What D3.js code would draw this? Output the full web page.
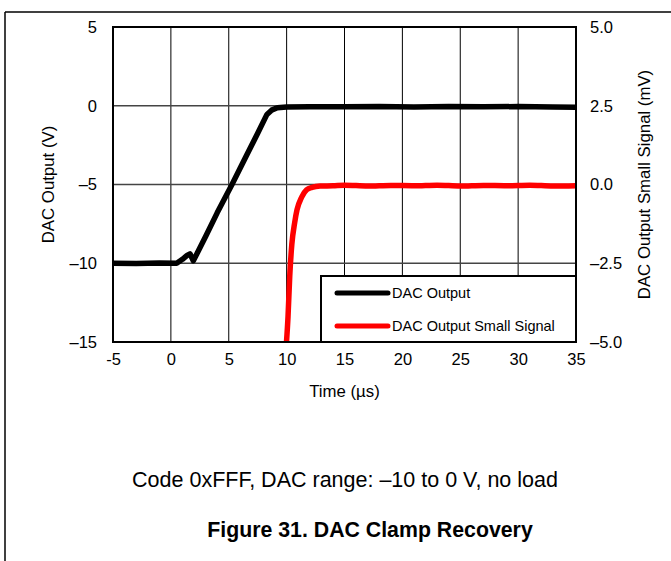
<!DOCTYPE html>
<html><head><meta charset="utf-8">
<script src="https://cdn.jsdelivr.net/npm/d3@7"></script>
<style>
html,body{margin:0;padding:0;background:#fff;}
svg{display:block;font-family:Arial,"Liberation Sans",Helvetica,sans-serif;}
</style></head>
<body>
<svg id="c" width="671" height="561"></svg>
<script>
// ---- data ----
const xTicks = [-5, 0, 5, 10, 15, 20, 25, 30, 35];
const xTickLabels = ["-5", "0", "5", "10", "15", "20", "25", "30", "35"];
const yLeftTicks = [5, 0, -5, -10, -15];
const yLeftTickLabels = ["5", "0", "–5", "–10", "–15"];
const yRightTicks = [5, 2.5, 0, -2.5, -5];
const yRightTickLabels = ["5.0", "2.5", "0.0", "–2.5", "–5.0"];

// DAC Output (V) vs time (µs)
const dacTime = [-5, -3, -1, 0.5, 1.0, 1.4, 1.65, 1.94, 3.0, 4.0, 5.28, 6.5, 7.5, 8.3, 8.7, 9.2, 10, 12, 15, 18, 21, 24, 27, 30, 33, 35];
const dacVolt = [-10.0, -10.02, -9.99, -10.0, -9.75, -9.5, -9.4, -9.85, -8.3, -6.8, -5.0, -3.2, -1.75, -0.55, -0.28, -0.13, -0.08, -0.06, -0.07, -0.05, -0.08, -0.05, -0.07, -0.05, -0.08, -0.09];

// DAC Output Small Signal (mV) vs time (µs)
const ssTime = [9.98, 10.12, 10.27, 10.45, 10.7, 10.9, 11.3, 11.73, 12.2, 12.9, 14, 15, 17, 19, 21, 23, 25, 27, 29, 31, 33, 35];
const ssMv = [-5.05, -4.2, -2.9, -1.9, -1.2, -0.8, -0.4, -0.17, -0.09, -0.05, -0.04, -0.02, -0.05, -0.03, -0.04, -0.02, -0.05, -0.03, -0.04, -0.02, -0.05, -0.04];

const legendLabels = ["DAC Output", "DAC Output Small Signal"];
const seriesColors = ["#000000", "#ff0000"];

// ---- chart ----
const svg = d3.select("#c");
const L = 113, R = 576, T = 27, B = 342;
const x = d3.scaleLinear().domain([-5, 35]).range([L, R]);
const yL = d3.scaleLinear().domain([-15, 5]).range([B, T]);
const yR = d3.scaleLinear().domain([-5, 5]).range([B, T]);

// page frame
svg.append("line").attr("x1", 5).attr("x2", 671).attr("y1", 12).attr("y2", 12).attr("stroke", "#000").attr("stroke-width", 1.5);
svg.append("line").attr("x1", 5).attr("x2", 5).attr("y1", 12).attr("y2", 561).attr("stroke", "#000").attr("stroke-width", 1.5);

// grid
const g = svg.append("g");
g.selectAll(".vg").data(xTicks.slice(1, -1)).enter().append("line")
  .attr("x1", d => x(d)).attr("x2", d => x(d)).attr("y1", T).attr("y2", B)
  .attr("stroke", "#000").attr("stroke-width", 1);
g.selectAll(".hg").data(yLeftTicks.slice(1, -1)).enter().append("line")
  .attr("x1", L).attr("x2", R).attr("y1", d => yL(d)).attr("y2", d => yL(d))
  .attr("stroke", "#444").attr("stroke-width", 1.3);

// clip
svg.append("clipPath").attr("id", "clip").append("rect")
  .attr("x", L).attr("y", T).attr("width", R - L).attr("height", B - T);

// series
const lineL = d3.line().x(d => x(d[0])).y(d => yL(d[1]));
const lineR = d3.line().x(d => x(d[0])).y(d => yR(d[1])).curve(d3.curveMonotoneX);
svg.append("path").datum(dacTime.map((t, i) => [t, dacVolt[i]]))
  .attr("d", lineL).attr("fill", "none").attr("stroke", seriesColors[0])
  .attr("stroke-width", 5.5).attr("stroke-linejoin", "round").attr("clip-path", "url(#clip)");
svg.append("path").datum(ssTime.map((t, i) => [t, ssMv[i]]))
  .attr("d", lineR).attr("fill", "none").attr("stroke", seriesColors[1])
  .attr("stroke-width", 5.5).attr("stroke-linejoin", "round").attr("clip-path", "url(#clip)");

// frame
svg.append("rect").attr("x", L).attr("y", T).attr("width", R - L).attr("height", B - T)
  .attr("fill", "none").attr("stroke", "#000").attr("stroke-width", 2);

// legend
const lg = svg.append("g");
lg.append("rect").attr("x", 321).attr("y", 276).attr("width", R - 321).attr("height", B - 276)
  .attr("fill", "#fff").attr("stroke", "#000").attr("stroke-width", 2);
legendLabels.forEach((lab, i) => {
  const yy = 293 + i * 33;
  lg.append("line").attr("x1", 337).attr("x2", 388).attr("y1", yy).attr("y2", yy)
    .attr("stroke", seriesColors[i]).attr("stroke-width", 5).attr("stroke-linecap", "round");
  lg.append("text").attr("x", 392).attr("y", yy + 5).attr("font-size", 14.5).text(lab);
});

// axes (labels only, no tick marks)
const tickFont = 16.5;
const axB = d3.axisBottom(x).tickValues(xTicks).tickFormat((d, i) => xTickLabels[i]).tickSize(0).tickPadding(11);
svg.append("g").attr("transform", `translate(0,${B})`).call(axB)
  .call(s => s.select(".domain").remove())
  .selectAll("text").attr("font-size", tickFont).attr("font-family", "Arial, 'Liberation Sans', sans-serif").attr("fill", "#000");

const axL = d3.axisLeft(yL).tickValues(yLeftTicks).tickFormat((d, i) => yLeftTickLabels[i]).tickSize(0).tickPadding(16);
svg.append("g").attr("transform", `translate(${L},0)`).call(axL)
  .call(s => s.select(".domain").remove())
  .selectAll("text").attr("font-size", tickFont).attr("font-family", "Arial, 'Liberation Sans', sans-serif").attr("fill", "#000");

const axR = d3.axisRight(yR).tickValues(yRightTicks).tickFormat((d, i) => yRightTickLabels[i]).tickSize(0).tickPadding(14);
svg.append("g").attr("transform", `translate(${R},0)`).call(axR)
  .call(s => s.select(".domain").remove())
  .selectAll("text").attr("font-size", tickFont).attr("font-family", "Arial, 'Liberation Sans', sans-serif").attr("fill", "#000");

// axis titles
svg.append("text").attr("x", (L + R) / 2).attr("y", 397).attr("text-anchor", "middle")
  .attr("font-size", 16.8).text("Time (µs)");
svg.append("text").attr("transform", `translate(54,${(T + B) / 2}) rotate(-90)`).attr("text-anchor", "middle")
  .attr("font-size", 16.8).text("DAC Output (V)");
svg.append("text").attr("transform", `translate(650,${(T + B) / 2}) rotate(-90)`).attr("text-anchor", "middle")
  .attr("font-size", 16.8).text("DAC Output Small Signal (mV)");

// captions
svg.append("text").attr("x", 345).attr("y", 487).attr("text-anchor", "middle")
  .attr("font-size", 21.5).text("Code 0xFFF, DAC range: –10 to 0 V, no load");
svg.append("text").attr("x", 370).attr("y", 537).attr("text-anchor", "middle")
  .attr("font-size", 21.3).attr("font-weight", "bold").text("Figure 31. DAC Clamp Recovery");
</script>
</body></html>
